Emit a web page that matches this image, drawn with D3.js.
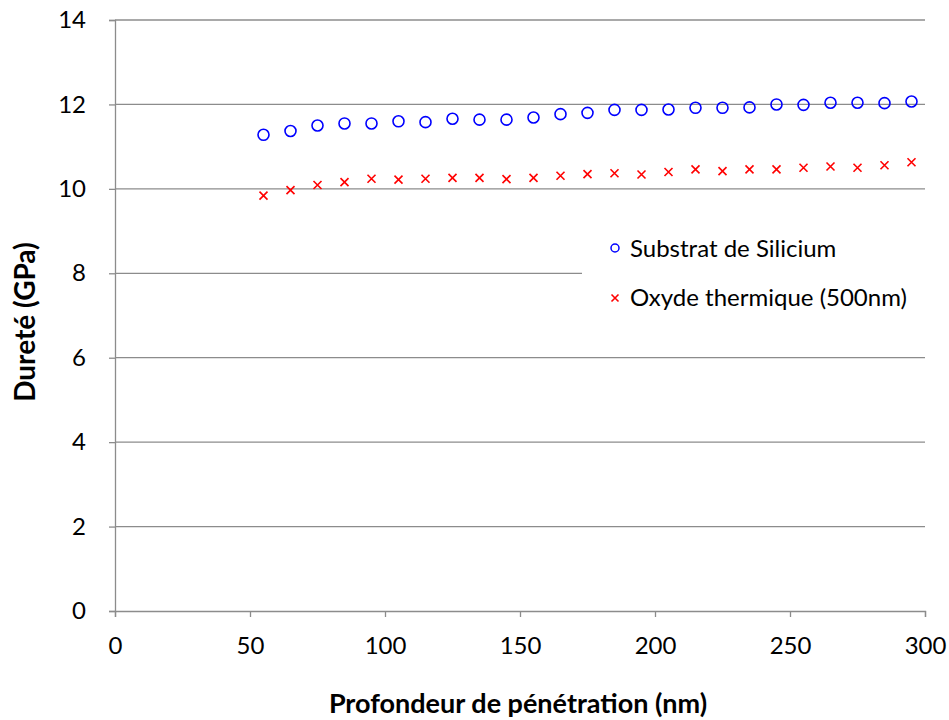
<!doctype html>
<html>
  <head>
    <script src="https://cdn.jsdelivr.net/npm/d3@7/dist/d3.min.js"></script>
    <style>
      body { margin: 0; background: #fff; }
      text { font-family: Lato, "Open Sans", sans-serif; fill: #000; }
    </style>
  </head>
  <body>
    <div id="my_dataviz"></div>
    <script>
      // penetration depth (nm)
      var depth = [55, 65, 75, 85, 95, 105, 115, 125, 135, 145, 155, 165, 175,
                   185, 195, 205, 215, 225, 235, 245, 255, 265, 275, 285, 295];
      // hardness (GPa)
      var silicium = [11.28, 11.37, 11.50, 11.55, 11.55, 11.60, 11.58, 11.66, 11.64, 11.64, 11.69, 11.77, 11.80,
                      11.87, 11.87, 11.88, 11.92, 11.92, 11.93, 12.00, 11.99, 12.04, 12.04, 12.03, 12.07];
      var oxyde = [9.84, 9.97, 10.09, 10.16, 10.24, 10.22, 10.24, 10.26, 10.26, 10.23, 10.26, 10.31, 10.35,
                   10.37, 10.34, 10.40, 10.46, 10.42, 10.46, 10.46, 10.50, 10.53, 10.50, 10.56, 10.63];
      var xTicks = [0, 50, 100, 150, 200, 250, 300];
      var yTicks = [0, 2, 4, 6, 8, 10, 12, 14];
      var seriesNames = ["Substrat de Silicium", "Oxyde thermique (500nm)"];

      var width = 949, height = 720;
      var margin = {top: 20, right: 24, bottom: 109, left: 115};
      var w = width - margin.left - margin.right,
          h = height - margin.top - margin.bottom;

      var svg = d3.select("#my_dataviz")
        .append("svg")
          .attr("width", width)
          .attr("height", height);

      var g = svg.append("g")
        .attr("transform", "translate(" + margin.left + "," + margin.top + ")");

      var x = d3.scaleLinear().domain([0, 300]).range([0, w]);
      var y = d3.scaleLinear().domain([0, 14]).range([h, 0]);

      // horizontal gridlines
      g.append("g")
        .selectAll("line")
        .data(yTicks.filter(function(d){ return d > 0; }))
        .enter()
        .append("line")
          .attr("x1", 0)
          .attr("x2", w)
          .attr("y1", function(d){ return y(d); })
          .attr("y2", function(d){ return y(d); })
          .attr("stroke", "#8c8c8c")
          .attr("stroke-width", 1.3);

      // Y axis
      var yAxis = g.append("g")
        .call(d3.axisLeft(y).tickValues(yTicks).tickSize(6).tickPadding(23));
      // X axis
      var xAxis = g.append("g")
        .attr("transform", "translate(0," + h + ")")
        .call(d3.axisBottom(x).tickValues(xTicks).tickSize(6).tickPadding(20));

      [xAxis, yAxis].forEach(function(a){
        a.selectAll("path, line").attr("stroke", "#8c8c8c").attr("stroke-width", 1.3);
        a.selectAll("text").style("font-size", "24px").style("font-family", "Lato, sans-serif");
      });

      // axis titles
      svg.append("text")
        .attr("x", 518)
        .attr("y", 713)
        .attr("text-anchor", "middle")
        .style("font-size", "27px")
        .style("font-weight", "bold")
        .text("Profondeur de pénétration (nm)");

      svg.append("text")
        .attr("transform", "translate(35,322) rotate(-90)")
        .attr("text-anchor", "middle")
        .style("font-size", "28px")
        .style("font-weight", "bold")
        .text("Dureté (GPa)");

      // points
      g.append("g")
        .selectAll("circle")
        .data(depth)
        .enter()
        .append("circle")
          .attr("cx", function(d){ return x(d); })
          .attr("cy", function(d, i){ return y(silicium[i]); })
          .attr("r", 5.5)
          .attr("fill", "none")
          .attr("stroke", "#0000ff")
          .attr("stroke-width", 1.6);

      var cross = function(sel, s) {
        sel.append("path")
          .attr("d", "M" + (-s) + "," + (-s) + "L" + s + "," + s + "M" + (-s) + "," + s + "L" + s + "," + (-s))
          .attr("stroke", "#ff0000")
          .attr("stroke-width", 1.6)
          .attr("fill", "none");
      };

      g.append("g")
        .selectAll("g")
        .data(depth)
        .enter()
        .append("g")
          .attr("transform", function(d, i){ return "translate(" + x(d) + "," + y(oxyde[i]) + ")"; })
          .each(function(){ cross(d3.select(this), 4); });

      // legend
      var legend = svg.append("g").attr("transform", "translate(582,228)");
      legend.append("rect")
        .attr("x", 0).attr("y", 0)
        .attr("width", 343).attr("height", 92)
        .attr("fill", "#fff");
      legend.append("circle")
        .attr("cx", 33).attr("cy", 20).attr("r", 4)
        .attr("fill", "none").attr("stroke", "#0000ff").attr("stroke-width", 1.5);
      legend.append("text")
        .attr("x", 48).attr("y", 29)
        .style("font-size", "24px")
        .text(seriesNames[0]);
      var lc = legend.append("g").attr("transform", "translate(33,70)");
      cross(lc, 3.5);
      legend.append("text")
        .attr("x", 48).attr("y", 78)
        .style("font-size", "24px")
        .text(seriesNames[1]);
    </script>
  </body>
</html>
